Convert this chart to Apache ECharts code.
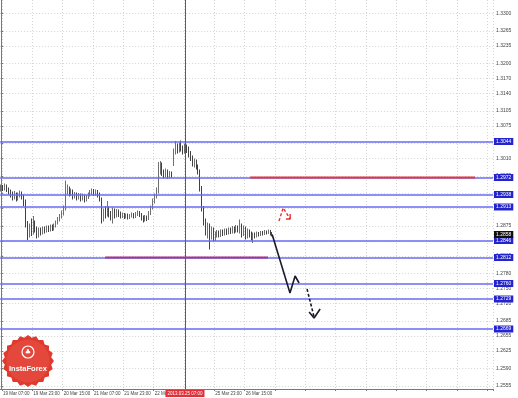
<!DOCTYPE html>
<html><head><meta charset="utf-8">
<script src="https://cdn.jsdelivr.net/npm/echarts@6/dist/echarts.min.js"></script>
<style>html,body{margin:0;padding:0;background:#fff}#c{width:518px;height:398px}</style>
</head><body><div id="c"></div>
<script>
// ---------- data ----------
const firstBarTime = Date.UTC(2013, 2, 19, 6); // 19 Mar 2013 06:00, H1 bars
const slotCount = 260;
const xTickLabels = ['19 Mar 07:00','19 Mar 23:00','20 Mar 15:00','21 Mar 07:00','21 Mar 23:00','22 Mar 15:00','25 Mar 23:00','26 Mar 15:00'];
const yTickLabels = [1.2555,1.2590,1.2625,1.2655,1.2685,1.2720,1.2750,1.2780,1.2815,1.2845,1.2875,1.2910,1.2940,1.2975,1.3010,1.3040,1.3075,1.3105,1.3140,1.3170,1.3200,1.3235,1.3265,1.3300];
const yMin = 1.2549, yMax = 1.3327;
// [open, close, low, high]
const candles = [
[1.2948,1.2952,1.2944,1.2958],[1.2952,1.2950,1.2945,1.2957],[1.2950,1.2955,1.2946,1.2960],[1.2955,1.2948,1.2943,1.2958],
[1.2948,1.2945,1.2938,1.2952],[1.2945,1.2940,1.2932,1.2948],[1.2940,1.2935,1.2926,1.2944],[1.2935,1.2938,1.2928,1.2945],
[1.2938,1.2930,1.2924,1.2942],[1.2930,1.2936,1.2926,1.2942],[1.2936,1.2940,1.2932,1.2946],[1.2940,1.2934,1.2928,1.2944],
[1.2934,1.2925,1.2915,1.2938],[1.2925,1.2880,1.2872,1.2928],[1.2880,1.2860,1.2847,1.2885],[1.2860,1.2875,1.2852,1.2880],
[1.2875,1.2862,1.2855,1.2890],[1.2862,1.2882,1.2858,1.2895],[1.2882,1.2870,1.2862,1.2886],[1.2870,1.2858,1.2850,1.2874],
[1.2858,1.2868,1.2852,1.2872],[1.2868,1.2863,1.2856,1.2872],[1.2863,1.2870,1.2858,1.2874],[1.2870,1.2866,1.2860,1.2874],
[1.2866,1.2872,1.2862,1.2876],[1.2872,1.2868,1.2863,1.2876],[1.2868,1.2874,1.2864,1.2878],[1.2874,1.2870,1.2865,1.2878],
[1.2870,1.2876,1.2866,1.2880],[1.2876,1.2882,1.2872,1.2886],[1.2882,1.2888,1.2878,1.2893],[1.2888,1.2895,1.2884,1.2899],
[1.2895,1.2900,1.2890,1.2906],[1.2900,1.2910,1.2896,1.2916],[1.2910,1.2945,1.2906,1.2966],[1.2945,1.2950,1.2938,1.2958],
[1.2950,1.2940,1.2934,1.2954],[1.2940,1.2944,1.2935,1.2950],[1.2944,1.2935,1.2928,1.2948],[1.2935,1.2938,1.2930,1.2943],
[1.2938,1.2932,1.2926,1.2942],[1.2932,1.2936,1.2928,1.2941],[1.2936,1.2930,1.2924,1.2940],[1.2930,1.2935,1.2926,1.2940],
[1.2935,1.2928,1.2922,1.2938],[1.2928,1.2933,1.2924,1.2937],[1.2933,1.2938,1.2929,1.2942],[1.2938,1.2942,1.2934,1.2947],
[1.2942,1.2946,1.2937,1.2950],[1.2946,1.2940,1.2935,1.2949],[1.2940,1.2944,1.2936,1.2948],[1.2944,1.2938,1.2932,1.2947],
[1.2938,1.2930,1.2924,1.2942],[1.2930,1.2890,1.2880,1.2932],[1.2890,1.2905,1.2884,1.2910],[1.2905,1.2898,1.2890,1.2915],
[1.2898,1.2910,1.2894,1.2925],[1.2910,1.2900,1.2892,1.2914],[1.2900,1.2895,1.2886,1.2905],[1.2895,1.2906,1.2880,1.2912],
[1.2906,1.2898,1.2890,1.2910],[1.2898,1.2904,1.2892,1.2909],[1.2904,1.2900,1.2893,1.2908],[1.2900,1.2896,1.2890,1.2904],
[1.2896,1.2898,1.2891,1.2902],[1.2898,1.2894,1.2889,1.2901],[1.2894,1.2897,1.2890,1.2900],[1.2897,1.2893,1.2888,1.2900],
[1.2893,1.2896,1.2889,1.2899],[1.2896,1.2898,1.2892,1.2902],[1.2898,1.2895,1.2890,1.2901],[1.2895,1.2899,1.2891,1.2903],
[1.2899,1.2902,1.2895,1.2906],[1.2902,1.2898,1.2893,1.2905],[1.2898,1.2892,1.2886,1.2901],[1.2892,1.2889,1.2882,1.2896],
[1.2889,1.2893,1.2884,1.2897],[1.2893,1.2890,1.2885,1.2896],[1.2890,1.2900,1.2887,1.2905],[1.2900,1.2912,1.2897,1.2916],
[1.2912,1.2925,1.2908,1.2930],[1.2925,1.2935,1.2920,1.2940],[1.2935,1.2945,1.2930,1.2952],[1.2945,1.2985,1.2940,1.3003],
[1.2985,1.2998,1.2978,1.3005],[1.2998,1.2982,1.2975,1.3002],[1.2982,1.2978,1.2970,1.2988],[1.2978,1.2983,1.2972,1.2990],
[1.2983,1.2975,1.2969,1.2988],[1.2975,1.2980,1.2970,1.2985],[1.2980,1.2978,1.2972,1.2984],[1.3000,1.3025,1.2995,1.3030],
[1.3025,1.3035,1.3018,1.3045],[1.3035,1.3028,1.3020,1.3040],[1.3028,1.3036,1.3022,1.3042],[1.3036,1.3030,1.3024,1.3046],
[1.3030,1.3025,1.3018,1.3036],[1.3025,1.3032,1.3020,1.3040],[1.3032,1.3028,1.3021,1.3038],[1.3028,1.3020,1.3012,1.3034],
[1.3020,1.3012,1.3005,1.3025],[1.3012,1.3000,1.2994,1.3016],[1.3000,1.3005,1.2992,1.3010],[1.3005,1.2995,1.2988,1.3008],
[1.2995,1.2985,1.2978,1.2998],[1.2985,1.2950,1.2944,1.2988],[1.2950,1.2910,1.2904,1.2955],[1.2910,1.2885,1.2876,1.2915],
[1.2885,1.2865,1.2856,1.2890],[1.2865,1.2875,1.2850,1.2882],[1.2875,1.2855,1.2828,1.2880],[1.2855,1.2868,1.2848,1.2874],
[1.2868,1.2850,1.2844,1.2872],[1.2850,1.2858,1.2845,1.2864],[1.2858,1.2862,1.2852,1.2867],[1.2862,1.2858,1.2852,1.2866],
[1.2858,1.2864,1.2853,1.2868],[1.2864,1.2860,1.2855,1.2868],[1.2860,1.2866,1.2856,1.2870],[1.2866,1.2862,1.2857,1.2870],
[1.2862,1.2868,1.2858,1.2872],[1.2868,1.2864,1.2859,1.2872],[1.2864,1.2870,1.2860,1.2875],[1.2870,1.2866,1.2860,1.2874],
[1.2866,1.2872,1.2862,1.2877],[1.2872,1.2868,1.2862,1.2876],[1.2868,1.2875,1.2860,1.2888],[1.2875,1.2860,1.2852,1.2880],
[1.2860,1.2870,1.2855,1.2876],[1.2870,1.2855,1.2848,1.2874],[1.2855,1.2865,1.2850,1.2870],[1.2865,1.2860,1.2852,1.2868],
[1.2860,1.2852,1.2846,1.2864],[1.2852,1.2858,1.2841,1.2862],[1.2858,1.2855,1.2850,1.2862],[1.2855,1.2860,1.2852,1.2864],
[1.2860,1.2858,1.2854,1.2863],[1.2858,1.2862,1.2855,1.2865],[1.2862,1.2860,1.2856,1.2865],[1.2860,1.2864,1.2857,1.2867],
[1.2864,1.2862,1.2858,1.2866],[1.2862,1.2865,1.2859,1.2868],[1.2865,1.2860,1.2856,1.2867],[1.2860,1.2858,1.2854,1.2863]
];
const levels = [1.3044,1.2972,1.2938,1.2913,1.2846,1.2812,1.2760,1.2729,1.2669];
const crosshairBar = 97;
const crosshairText = '2013.03.25 07:00';
// annotations in [bar index, price]
const redLevel = [[131.4,1.2972],[250,1.2972]];
const purpleLevel = [[54.9,1.2812],[140.8,1.2812]];
const forecastPath = [[143,1.2858],[152.4,1.2741],[155.1,1.2775],[157.2,1.2761]];
const forecastDash = [[161.4,1.2749],[165.1,1.2693]];
const forecastHead = [[162.5,1.2703],[165.1,1.2691],[168.3,1.2709]];
const redArrowPath = [[146.6,1.2885],[148.8,1.2911],[152.5,1.2889]];
const redArrowHead = [[150.3,1.2889],[152.5,1.2889],[152.5,1.2899]];

// ---------- categories ----------
const months = ['Jan','Feb','Mar','Apr','May','Jun','Jul','Aug','Sep','Oct','Nov','Dec'];
const categories = [];
for (let t = firstBarTime; categories.length < slotCount; t += 3600000) {
  const d = new Date(t), wd = d.getUTCDay();
  if (wd === 0 || wd === 6) continue;
  categories.push(d.getUTCDate() + ' ' + months[d.getUTCMonth()] + ' ' + String(d.getUTCHours()).padStart(2,'0') + ':00');
}
const gridEvery = (i) => (i % 16) === 1;
const lastClose = candles[candles.length-1][1];

const chart = echarts.init(document.getElementById('c'), null, {renderer:'canvas'});
const font = 'Liberation Sans';
const annot = (data, color, width, type, z) => ({
  type:'line', xAxisIndex:1, data, symbol:'none', silent:true, animation:false, z,
  lineStyle:{color, width, type}
});
const levelLabel = (bg) => ({position:'end', distance:1, formatter:(p)=>Number(p.value).toFixed(4), backgroundColor:bg, color:'#fff', fontSize:5, fontFamily:font, padding:[1,2,1,2]});
const levelLine = {color:'#6a6af6', width:1.6, type:'solid'};

// starburst logo points
const starPts = [];
for (let k = 0; k < 40; k++) {
  const r = (k % 2 === 0) ? 26 : 23.5;
  const a = Math.PI * 2 * k / 40;
  starPts.push([28 + r*Math.cos(a), 361 + r*Math.sin(a)]);
}

chart.setOption({
  animation:false,
  backgroundColor:'#ffffff',
  grid:{left:0, right:25, top:0, bottom:9, containLabel:false},
  xAxis:[{
    type:'category', data:categories, boundaryGap:true,
    axisLine:{show:true, lineStyle:{color:'#777', width:1}},
    axisTick:{show:true, interval:(i)=>gridEvery(i), length:2, lineStyle:{color:'#777'}},
    axisLabel:{interval:(i, v)=>xTickLabels.includes(v), fontSize:4.5, color:'#444', fontFamily:font, align:'left', margin:2, hideOverlap:false},
    splitLine:{show:true, interval:(i)=>gridEvery(i), lineStyle:{color:'#d4d4d4', type:[1,2], width:1}}
  },{
    type:'value', min:-0.5, max:slotCount-0.5, show:false
  }],
  yAxis:{
    type:'value', position:'right', min:yMin, max:yMax, scale:true,
    axisLine:{show:true, lineStyle:{color:'#777', width:1}},
    axisTick:{show:true, length:2, customValues:yTickLabels, lineStyle:{color:'#777'}},
    axisLabel:{customValues:yTickLabels, formatter:(v)=>v.toFixed(4), fontSize:5, color:'#444', fontFamily:font, margin:3},
    splitLine:{show:true, lineStyle:{color:'#d4d4d4', type:[1,2], width:1}}
  },
  series:[
    {
      type:'candlestick', data:candles, barMaxWidth:1.6, z:3,
      itemStyle:{color:'#a8a8a8', color0:'#1a1a1a', borderColor:'#4a4a4a', borderColor0:'#111', borderWidth:0.8}
    },
    {
      type:'line', data:[], z:4, silent:true,
      markLine:{
        silent:true, symbol:'none', animation:false, precision:4,
        lineStyle:levelLine,
        label:levelLabel('#2424cc'),
        data: levels.map(v=>({yAxis:v, lineStyle:levelLine, label:levelLabel('#2424cc')})).concat([
          {yAxis:lastClose, lineStyle:{color:'rgba(0,0,0,0)', width:0}, label:levelLabel('#111111')}
        ])
      }
    },
    {
      type:'line', data:[], z:4, silent:true,
      markLine:{
        silent:true, symbol:'none', animation:false,
        data:[{xAxis:crosshairBar, lineStyle:{color:'#8a4a4a', width:1, type:'solid'},
          label:{position:'start', distance:1, formatter:crosshairText, backgroundColor:'#e0303a', color:'#fff', fontSize:4.5, fontFamily:font, padding:[1,2,1,2]}}]
      }
    },
    annot(redLevel, '#e83636', 2, 'solid', 5),
    annot(purpleLevel, '#a8348a', 2, 'solid', 5),
    annot(forecastPath, '#1a1a2a', 1.6, 'solid', 6),
    annot(forecastDash, '#1a1a2a', 1.6, [3,2], 6),
    annot(forecastHead, '#1a1a2a', 1.6, 'solid', 6),
    annot(redArrowPath, '#e83030', 1.4, [3,2], 6),
    annot(redArrowHead, '#e83030', 1.4, 'solid', 6)
  ],
  graphic:[
    {type:'polygon', shape:{points:starPts}, style:{fill:'#df3a2e'}, z:10},
    {type:'circle', shape:{cx:28, cy:361, r:21.5}, style:{fill:'#e4483c'}, z:10},
    {type:'circle', shape:{cx:28, cy:352, r:6}, style:{fill:'none', stroke:'#fff', lineWidth:1.2}, z:11},
    {type:'text', style:{x:28, y:352.5, text:'♣', fill:'#fff', font:'7px DejaVu Sans', align:'center', verticalAlign:'middle'}, z:11},
    {type:'text', style:{x:28, y:369, text:'InstaForex', fill:'#fff', font:'bold 7.5px '+font, align:'center', verticalAlign:'middle'}, z:11}
  ]
});
</script></body></html>
